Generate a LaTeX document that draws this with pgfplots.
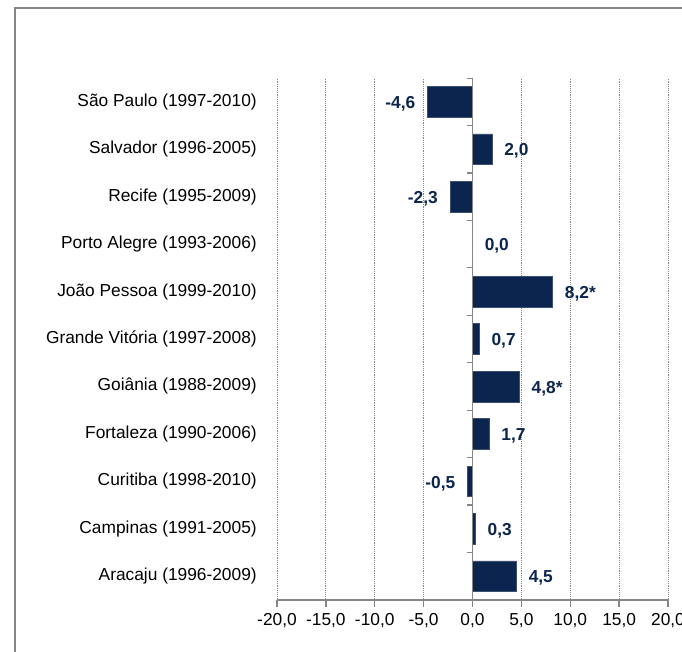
\documentclass[border=0pt]{standalone}
\usepackage{fontspec}
\setmainfont{Liberation Sans}
\usepackage{pgfplots}
\pgfplotsset{compat=1.18}
\usepackage{pgfplotstable}
\definecolor{barblue}{RGB}{11,37,79}
\definecolor{axisgray}{RGB}{134,134,134}

% y position, value, label text
\pgfplotstableread{
y  x    lab
9  2.0  {2,0}
7  0.0  {0,0}
6  8.2  {8,2*}
5  0.7  {0,7}
4  4.8  {4,8*}
3  1.7  {1,7}
1  0.3  {0,3}
0  4.5  {4,5}
}\pos
\pgfplotstableread{
y  x    lab
10 -4.6 {-4,6}
8  -2.3 {-2,3}
2  -0.5 {-0,5}
}\neg

\begin{document}
\begin{tikzpicture}
  % page = 682x651 px at 0.75pt per px, axis box lower left at (277,600)
  \useasboundingbox (-207.75pt,-38.25pt) rectangle (303.75pt,450pt);
  \draw[axisgray, line width=1pt] (-196.5pt,-40pt) -- (-196.5pt,444pt) -- (310pt,444pt);
  \begin{axis}[
    at={(0,0)}, anchor=south west,
    scale only axis,
    width=293.25pt, height=391.5pt,
    xbar, bar width=23pt, bar shift=0pt,
    xmin=-20, xmax=20,
    ymin=-0.5, ymax=10.5,
    xtick={-20,-15,...,20},
    ytick={0,...,10},
    yticklabels={Aracaju (1996-2009),Campinas (1991-2005),Curitiba (1998-2010),
      Fortaleza (1990-2006),Goiânia (1988-2009),Grande Vitória (1997-2008),
      João Pessoa (1999-2010),Porto Alegre (1993-2006),Recife (1995-2009),
      Salvador (1996-2005),São Paulo (1997-2010)},
    axis x line*=bottom, axis y line*=left,
    x axis line style={-, axisgray, line width=1pt},
    y axis line style={draw=none},
    ytick style={draw=none},
    xtick style={axisgray, line width=1pt},
    tick align=outside, major tick length=5pt,
    xmajorgrids, grid style={densely dotted, axisgray, line width=0.6pt},
    /pgf/number format/.cd, fixed, fixed zerofill, precision=1, use comma,
      assume math mode=true,
    /pgfplots/.cd,
    tick label style={font=\fontsize{13}{15}\selectfont},
    yticklabel style={inner sep=0pt, xshift=-10pt},
    xticklabel style={inner sep=0pt, yshift=-5pt},
    point meta=explicit symbolic,
    nodes near coords,
    every node near coord/.append style={font=\bfseries\fontsize{13}{15}\selectfont,
      text=barblue, inner sep=0pt, yshift=-1.5pt},
  ]
    \addplot[fill=barblue, draw=barblue!80!white,
      every node near coord/.append style={anchor=west, xshift=9pt}]
      table[x=x, y=y, meta=lab] {\pos};
    \addplot[fill=barblue, draw=barblue!80!white,
      every node near coord/.append style={anchor=east, xshift=-9pt}]
      table[x=x, y=y, meta=lab] {\neg};
    \draw[axisgray, line width=1pt] (axis cs:0,-0.5) -- (axis cs:0,10.5);
    \pgfplotsinvokeforeach{-0.5,0.5,...,10.5}{
      \draw[axisgray, line width=1pt] (axis cs:0,#1) -- ([xshift=-4pt]axis cs:0,#1);
    }
  \end{axis}
\end{tikzpicture}
\end{document}
